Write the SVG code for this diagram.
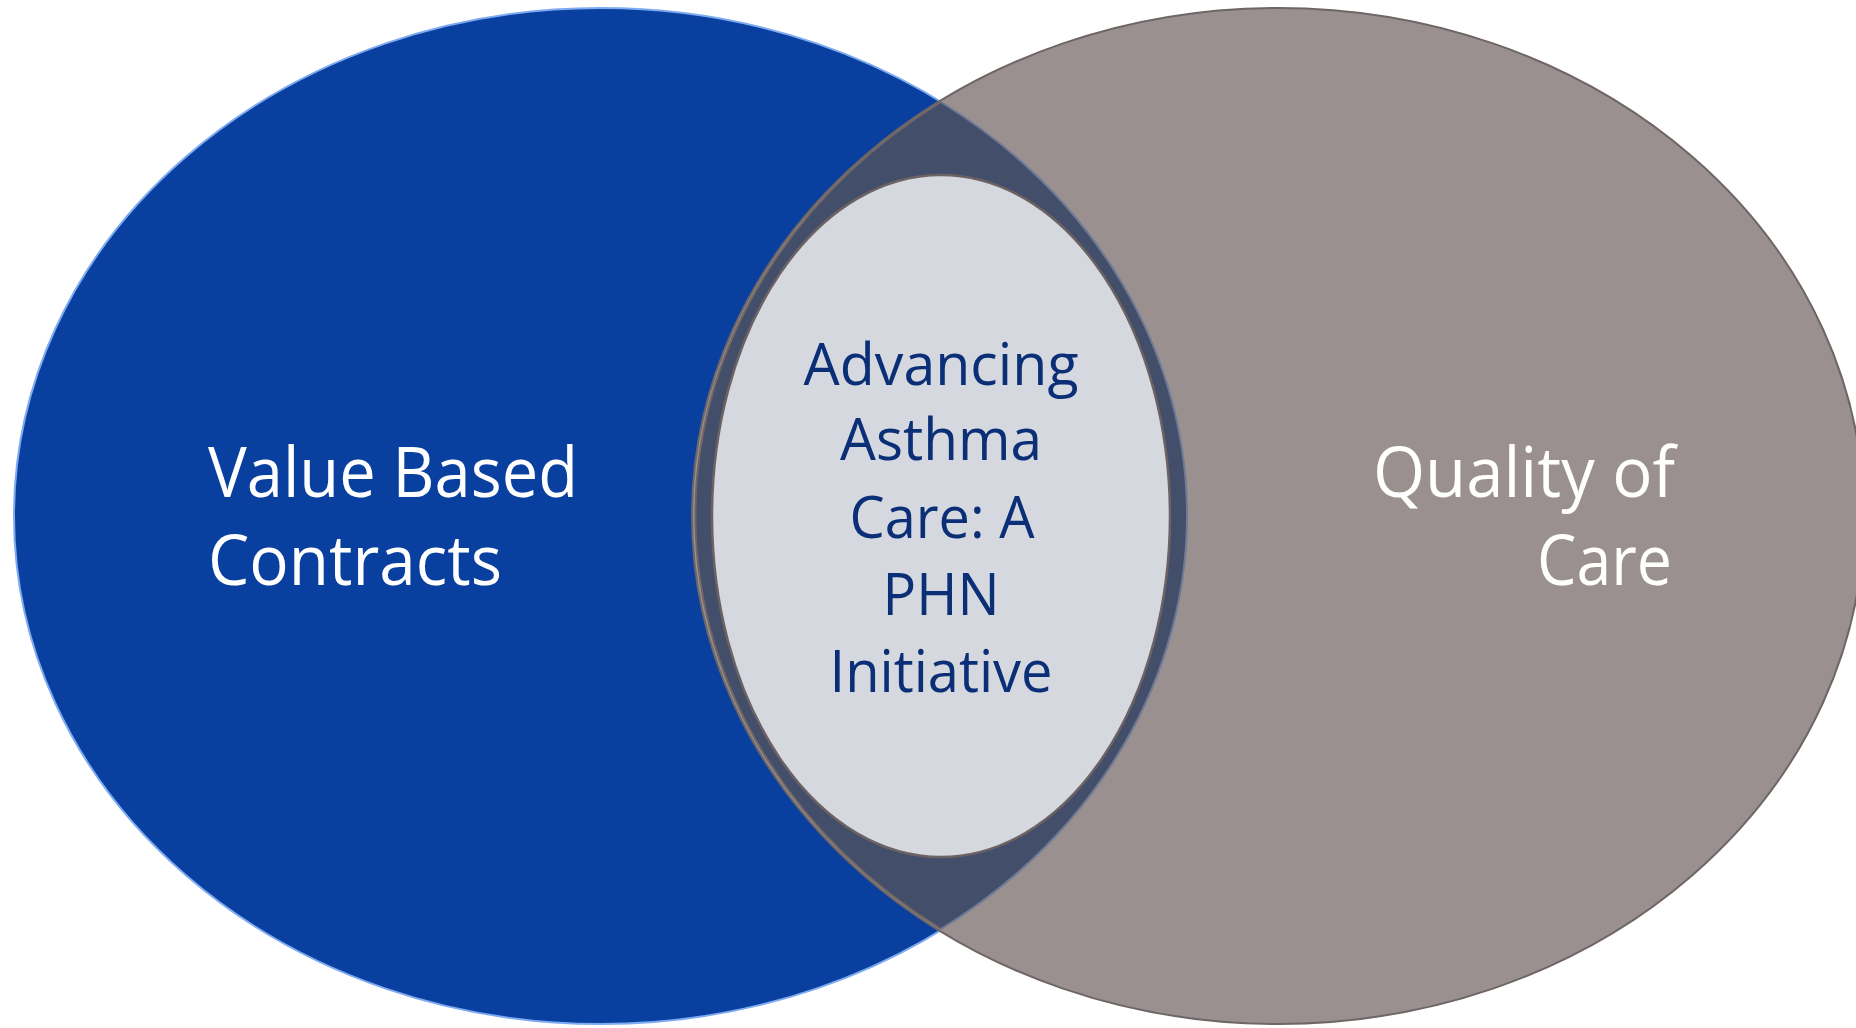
<svg xmlns="http://www.w3.org/2000/svg" width="1856" height="1028" viewBox="0 0 1856 1028">
<style>
text{font-variant-ligatures:none;font-feature-settings:"liga" 0,"clig" 0,"dlig" 0}
.white{fill:#ffffff;font-family:"Open Sans",Lato,sans-serif;font-size:70px}
.navy{fill:#0b2f76;font-family:"Open Sans",Lato,sans-serif;font-size:59px;text-anchor:middle}
</style>
<rect width="1856" height="1028" fill="#ffffff"/>
<g id="value-based-contracts">
<ellipse cx="601" cy="516" rx="587" ry="508" fill="#0940a0" stroke="#7eaaf0" stroke-width="2"/>
</g>
<g id="quality-of-care">
<ellipse cx="1278" cy="516" rx="586" ry="508" fill="#9a908f" stroke="#6e6666" stroke-width="2"/>
</g>
<g id="overlap">
<path d="M941,102 A586,508 0 0,0 941,929 A587,508 0 0,0 941,102 Z" fill="#434e6b"/>
<path d="M941,102 A586,508 0 0,0 941,929" fill="none" stroke="#6e6666" stroke-width="2"/>
<path d="M941,929 A587,508 0 0,0 941,102" fill="none" stroke="#6f7a96" stroke-width="2"/>
</g>
<g id="advancing-asthma-care">
<ellipse cx="941" cy="516" rx="229" ry="341" fill="#d5d8df" stroke="#6d6262" stroke-width="2.5"/>
</g>
<g id="labels">
<text class="white" x="208" y="497" textLength="370" lengthAdjust="spacingAndGlyphs">Value Based</text>
<text class="white" x="208" y="585" textLength="294" lengthAdjust="spacingAndGlyphs">Contracts</text>
<text class="white" x="1373" y="497" textLength="302" lengthAdjust="spacingAndGlyphs">Quality of</text>
<text class="white" x="1537" y="585" textLength="135" lengthAdjust="spacingAndGlyphs">Care</text>
<text class="navy" x="941" y="385" textLength="275" lengthAdjust="spacingAndGlyphs">Advancing</text>
<text class="navy" x="941" y="460" textLength="202" lengthAdjust="spacingAndGlyphs">Asthma</text>
<text class="navy" x="942" y="538" textLength="185" lengthAdjust="spacingAndGlyphs">Care: A</text>
<text class="navy" x="941" y="615" textLength="117" lengthAdjust="spacingAndGlyphs">PHN</text>
<text class="navy" x="941" y="692" textLength="223" lengthAdjust="spacingAndGlyphs">Initiative</text>
</g>
</svg>
